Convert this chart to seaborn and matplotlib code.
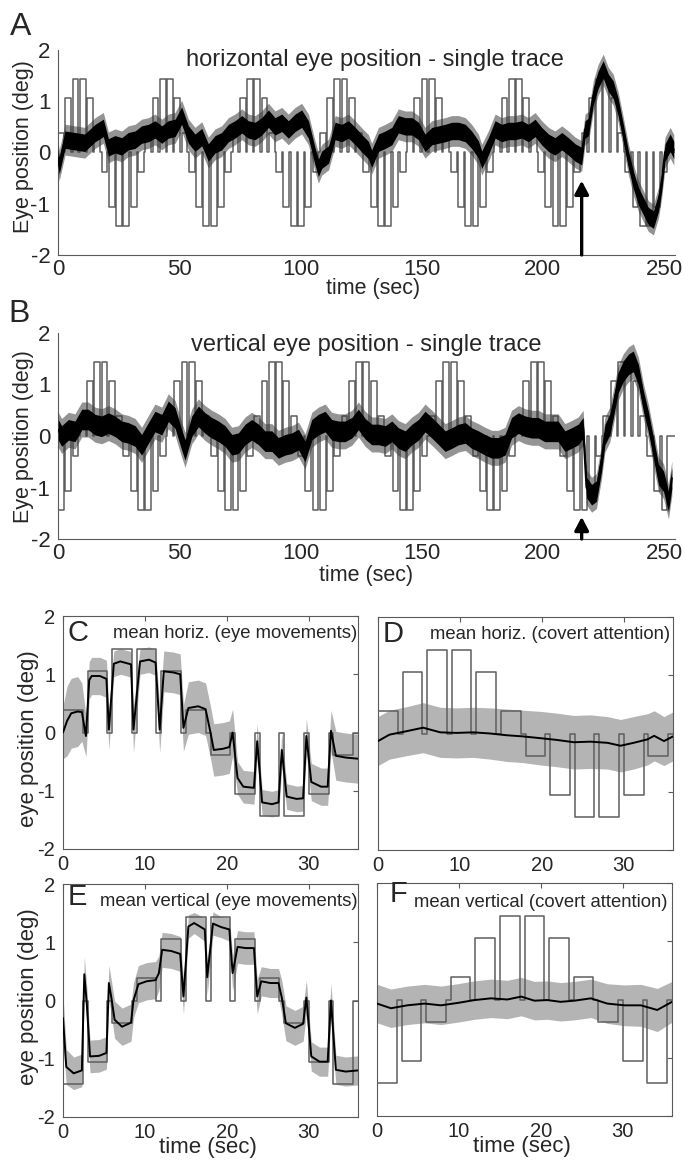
import numpy as np
import matplotlib
matplotlib.use("Agg")
import matplotlib.pyplot as plt
import seaborn as sns

# --- target positions (deg) for one 36 s trial: 12 targets, 2.4 s on, 0.6 s at centre
target_h = [0.38, 1.06, 1.44, 1.44, 1.06, 0.38, -0.38, -1.06, -1.44, -1.44, -1.06, -0.38]
target_v = [-1.44, -1.06, -0.38, 0.38, 1.06, 1.44, 1.44, 1.06, 0.38, -0.38, -1.06, -1.44]
target_on = 2.4
target_period = 3.0
trial_len = 36.0

# --- A: horizontal single trace
a_t = [0, 0.5, 2.9, 7, 11, 15.3, 18.7, 20.8, 23.5, 26.3,
       29, 31.8, 34.5, 37.3, 40, 42.8, 45.5, 48.3, 51, 53.8,
       56.5, 59.3, 62, 64.8, 67.5, 70.3, 73, 75.8, 78.5, 81.3,
       84, 86.8, 89.5, 92.3, 95, 97.8, 100.5, 103.3, 106, 107.4,
       108.8, 111.6, 114.3, 117, 119.8, 122.6, 125.3, 128, 129.4, 132.2,
       135, 137.7, 140.4, 143.2, 146, 148.7, 151.4, 154.2, 157, 159.7,
       162.4, 165.2, 168, 170.6, 173.4, 174.8, 177.5, 180.3, 183, 185.8,
       188.5, 191.3, 194, 196.8, 199.5, 202.3, 205, 207.8, 210.5, 213.3,
       216, 217.4, 218.8, 220.8, 222.8, 224.9, 227, 229, 231, 233.2,
       235.3, 237.3, 239.4, 241.5, 243.5, 245.6, 247.7, 249, 250.4, 252.5,
       254]
a_v = [-0.1, -0.25, 0.25, 0.22, 0.19, 0.38, 0.48, 0.1, 0.16, 0.12,
       0.22, 0.25, 0.35, 0.38, 0.45, 0.35, 0.45, 0.48, 0.72, 0.35,
       0.19, 0.3, 0.0, 0.16, 0.22, 0.38, 0.45, 0.55, 0.45, 0.42,
       0.51, 0.66, 0.51, 0.58, 0.45, 0.58, 0.66, 0.45, -0.07, -0.3,
       -0.14, -0.04, 0.42, 0.38, 0.45, 0.32, 0.18, 0.05, -0.12, 0.19,
       0.25, 0.32, 0.55, 0.51, 0.51, 0.42, 0.19, 0.32, 0.35, 0.38,
       0.42, 0.42, 0.38, 0.25, 0.06, -0.14, 0.12, 0.45, 0.38, 0.42,
       0.42, 0.45, 0.38, 0.48, 0.32, 0.19, 0.12, 0.22, 0.12, 0.0,
       -0.07, 0.45, 0.5, 1.1, 1.42, 1.62, 1.36, 1.23, 0.9, 0.38,
       -0.14, -0.53, -0.85, -1.05, -1.24, -1.31, -0.98, -0.59, 0.0, 0.19,
       0.05]
a_core = 0.17     # half-width of the dense part of the trace
a_fringe = 0.3    # half-width of the sparse spikes

# --- B: vertical single trace
b_t = [0.1, 1.5, 4.3, 7, 9.8, 12.5, 15.3, 18, 20.8, 23.5,
       26.3, 29, 31.8, 34.5, 37.3, 40, 42.8, 45.5, 48.3, 51,
       52.4, 55.2, 57.9, 60.7, 63.4, 66.2, 68.9, 71.7, 74.4, 77.2,
       79.9, 82.7, 85.4, 88.2, 90.9, 93.7, 96.4, 99.2, 101.9, 104.7,
       107.4, 110.2, 112.9, 115.7, 118.4, 121.2, 123.9, 126.7, 129.4, 132.2,
       135, 137.7, 140.4, 143.2, 146, 148.7, 151.4, 154.2, 157, 159.7,
       162.4, 165.2, 168, 170.6, 173.4, 176.1, 178.9, 181.6, 184.4, 187.1,
       189.9, 192.6, 195.4, 198.1, 200.8, 203.6, 206.3, 209.1, 211.8, 214.6,
       216.6, 218, 220.1, 222.1, 224.2, 225.6, 227.6, 229, 231, 233.2,
       235.3, 237.3, 239.4, 241.5, 243.5, 245.6, 247.7, 249.8, 251.8, 253.2]
b_v = [0.12, 0.0, 0.12, 0.09, 0.32, 0.32, 0.22, 0.19, 0.25, 0.19,
       0.09, 0.06, 0.0, -0.17, 0.06, 0.28, 0.22, 0.48, 0.35, -0.07,
       -0.27, 0.19, 0.38, 0.25, 0.16, 0.09, 0.0, -0.17, -0.14, 0.03,
       0.12, 0.03, -0.1, -0.1, -0.23, -0.17, -0.14, -0.07, -0.3, 0.12,
       0.22, 0.28, 0.12, 0.09, 0.09, 0.16, 0.32, 0.14, 0.03, 0.03,
       0.0, 0.09, -0.04, -0.1, 0.03, 0.12, 0.28, 0.16, 0.03, -0.1,
       -0.04, 0.03, 0.06, -0.04, -0.1, -0.17, -0.23, -0.23, -0.17, 0.16,
       0.25, 0.19, 0.16, 0.16, 0.09, 0.09, 0.09, -0.1, -0.04, 0.03,
       0.16, -1.0, -1.14, -1.07, -0.49, 0.03, 0.22, 0.54, 1.03, 1.26,
       1.39, 1.45, 1.19, 0.67, 0.28, -0.23, -0.75, -0.88, -1.27, -0.82]
b_core = 0.2
b_fringe = 0.34

arrow_t = 216
a_arrow_tip = -0.55
b_arrow_tip = -1.57

# --- C: mean horizontal, eye movements (mean and spread)
c_t = [0.0, 0.5, 1.0, 1.8, 2.3, 2.8, 3.2, 3.5, 4.5, 5.3,
       5.6, 6.2, 7.0, 8.3, 8.6, 9.4, 10.5, 11.3, 11.8, 12.3,
       13.5, 14.3, 14.7, 15.3, 16.5, 17.4, 18.0, 18.4, 19.5, 20.3,
       20.7, 21.3, 22.0, 23.3, 23.7, 24.3, 25.5, 26.3, 26.7, 27.3,
       28.5, 29.3, 29.7, 30.3, 31.5, 32.3, 32.7, 33.3, 34.5, 36.0]
c_m = [0.0, 0.2, 0.33, 0.36, 0.35, -0.06, 0.9, 0.97, 0.97, 0.92,
       0.05, 1.18, 1.22, 1.17, 0.05, 1.22, 1.25, 1.2, 0.05, 1.05,
       1.03, 1.0, 0.08, 0.42, 0.45, 0.4, 0.0, -0.3, -0.28, -0.25,
       0.0, -0.78, -0.93, -0.95, -0.15, -1.2, -1.23, -1.2, -0.3, -1.1,
       -1.14, -1.13, -0.06, -0.85, -0.93, -0.93, 0.03, -0.4, -0.43, -0.45]
c_sd = [0.45, 0.6, 0.6, 0.6, 0.5, 0.35, 0.32, 0.32, 0.32, 0.32,
        0.35, 0.22, 0.22, 0.22, 0.4, 0.22, 0.22, 0.22, 0.4, 0.35,
        0.35, 0.35, 0.4, 0.45, 0.45, 0.45, 0.45, 0.45, 0.45, 0.45,
        0.4, 0.28, 0.28, 0.28, 0.3, 0.22, 0.22, 0.22, 0.3, 0.22,
        0.22, 0.22, 0.3, 0.32, 0.32, 0.32, 0.35, 0.42, 0.42, 0.42]

# --- D: mean horizontal, covert attention
d_t = [0, 1.4, 3.5, 5.5, 7.6, 9.6, 11.6, 13.7, 15.7, 17.7, 19.8,
       21.8, 23.9, 25.9, 28.0, 29.6, 31.2, 32.9, 33.7, 34.9, 36.0]
d_m = [-0.13, -0.02, 0.04, 0.1, 0.02, 0.01, 0.02, 0.0, -0.03, -0.05, -0.08,
       -0.11, -0.15, -0.14, -0.16, -0.21, -0.16, -0.1, -0.04, -0.13, -0.05]
d_sd = [0.42, 0.42, 0.42, 0.43, 0.43, 0.43, 0.43, 0.44, 0.45, 0.45, 0.46,
        0.46, 0.46, 0.46, 0.45, 0.45, 0.45, 0.44, 0.43, 0.42, 0.42]

# --- E: mean vertical, eye movements
e_t = [0.0, 0.4, 1.3, 2.3, 2.6, 2.9, 3.3, 4.4, 5.3, 5.6,
       5.9, 6.3, 7.2, 8.3, 8.6, 9.2, 10.2, 11.3, 11.7, 12.1,
       13.2, 14.3, 14.7, 15.3, 16.0, 17.3, 17.6, 18.3, 19.3, 20.3,
       20.7, 21.3, 22.3, 23.3, 23.7, 24.2, 25.3, 26.3, 26.7, 27.2,
       28.3, 29.3, 29.7, 30.3, 31.3, 32.3, 32.7, 33.3, 34.5, 36.0]
e_m = [-0.3, -1.14, -1.25, -1.2, 0.45, -0.05, -0.96, -0.95, -0.9, 0.3,
       0.05, -0.33, -0.45, -0.38, 0.0, 0.28, 0.33, 0.35, 0.47, 0.87,
       0.85, 0.8, 0.07, 1.27, 1.33, 1.22, 0.4, 1.32, 1.26, 1.22,
       0.47, 0.92, 0.9, 0.9, 0.07, 0.33, 0.3, 0.3, 0.05, -0.39,
       -0.47, -0.4, 0.05, -0.96, -1.05, -1.05, 0.0, -1.19, -1.22, -1.2]
e_sd = [0.4, 0.3, 0.28, 0.28, 0.3, 0.3, 0.28, 0.28, 0.28, 0.3,
        0.3, 0.32, 0.32, 0.32, 0.3, 0.32, 0.32, 0.32, 0.3, 0.3,
        0.3, 0.3, 0.3, 0.2, 0.18, 0.2, 0.3, 0.2, 0.18, 0.2,
        0.3, 0.28, 0.28, 0.28, 0.3, 0.25, 0.25, 0.25, 0.3, 0.3,
        0.3, 0.3, 0.3, 0.25, 0.25, 0.25, 0.3, 0.25, 0.25, 0.25]

# --- F: mean vertical, covert attention
f_t = [0, 1.7, 3.7, 5.8, 7.8, 9.8, 11.9, 13.9, 15.9, 17.6,
       19.2, 20.8, 22.4, 24.1, 26.1, 28.1, 30.2, 32.2, 34.2, 36.0]
f_m = [-0.07, -0.15, -0.1, -0.07, -0.1, -0.06, -0.01, 0.02, 0.0, 0.05,
       -0.02, -0.01, -0.04, -0.02, 0.02, -0.07, -0.1, -0.1, -0.18, -0.04]
f_sd = [0.33, 0.33, 0.33, 0.33, 0.33, 0.33, 0.33, 0.33, 0.33, 0.33,
        0.33, 0.33, 0.33, 0.33, 0.33, 0.34, 0.35, 0.36, 0.37, 0.35]

STIM = "#5e5e5e"
BAND = "#b4b4b4"
SPINE = "#5a5a5a"

sns.set_style("white")
plt.rcParams["font.family"] = ["Liberation Sans", "DejaVu Sans"]
plt.rcParams["axes.unicode_minus"] = False

W, H = 684, 1162


def box(l, t, r, b):
    return [l / W, 1 - b / H, (r - l) / W, (b - t) / H]


def stim_steps(levels, n_cycles, t_end):
    ts, ys = [], []
    for k in range(n_cycles):
        for i, lev in enumerate(levels):
            t0 = k * trial_len + i * target_period
            ts += [t0, t0 + target_on]
            ys += [lev, 0.0]
    ts.append(t_end)
    ys.append(0.0)
    return ts, ys


def style_axis(ax, size, tick_len, full_box):
    for s in ax.spines.values():
        s.set_color(SPINE)
        s.set_linewidth(0.8)
    if not full_box:
        sns.despine(ax=ax)
    ax.tick_params(direction="in", length=tick_len, width=0.8, color=SPINE,
                   labelsize=size, top=full_box, right=full_box)
    ax.tick_params(axis="x", pad=3)
    ax.tick_params(axis="y", pad=5.5)


def single_trace(ax, t, v, core, fringe, targets, title, title_xy, tip, xlab_xy, ylab_y):
    xmax = 254.5
    st, sy = stim_steps(targets, 7, xmax)
    sns.lineplot(x=st, y=sy, ax=ax, color=STIM, lw=1.1, drawstyle="steps-post",
                 estimator=None, sort=False)
    t = np.array(t)
    v = np.array(v)
    # soft fringe of the noisy trace, then its dense core
    ax.fill_between(t, v - fringe, v + fringe, color="#3c3c3c", alpha=0.55, lw=0, zorder=3)
    ax.fill_between(t, v - core, v + core, color="black", lw=0, zorder=3)
    sns.lineplot(x=t, y=v, ax=ax, color="black", lw=1.5, estimator=None, sort=False, zorder=4)
    ax.annotate("", xy=(arrow_t, tip), xytext=(arrow_t, -2),
                arrowprops=dict(arrowstyle="-|>,head_length=0.8,head_width=0.42",
                                color="black", lw=2.4, shrinkA=0, shrinkB=0), zorder=5)
    ax.set_xlim(0, xmax)
    ax.set_ylim(-2, 2)
    ax.set_xticks([0, 50, 100, 150, 200, 250])
    ax.set_yticks([-2, -1, 0, 1, 2])
    style_axis(ax, 16, 4.5, False)
    ax.text(title_xy[0], title_xy[1], title, transform=ax.transAxes,
            ha="center", va="center", fontsize=17)
    ax.set_xlabel("time (sec)", fontsize=15.5)
    ax.xaxis.set_label_coords(*xlab_xy)
    ax.xaxis.label.set_va("center")
    ax.set_ylabel("Eye position (deg)", fontsize=15.5)
    ax.yaxis.set_label_coords(-0.056, ylab_y)
    ax.yaxis.label.set_va("center")


def mean_panel(ax, t, m, sd, targets, letter, letter_xy, title, title_xy, ylab_y=None, xlab=False):
    t = np.array(t)
    m = np.array(m)
    sd = np.array(sd)
    ax.fill_between(t, m - sd, m + sd, color=BAND, lw=0, zorder=1)
    st, sy = stim_steps(targets, 1, trial_len)
    sns.lineplot(x=st, y=sy, ax=ax, color=STIM, lw=1.1, drawstyle="steps-post",
                 estimator=None, sort=False, zorder=2)
    sns.lineplot(x=t, y=m, ax=ax, color="black", lw=1.4, estimator=None, sort=False, zorder=3)
    ax.set_xlim(0, trial_len)
    ax.set_ylim(-2, 2)
    ax.set_xticks([0, 10, 20, 30])
    ax.set_yticks([-2, -1, 0, 1, 2])
    style_axis(ax, 14.5, 3.5, True)
    ax.tick_params(axis="x", pad=4)
    ax.text(letter_xy[0], letter_xy[1], letter, transform=ax.transAxes,
            ha="left", va="center", fontsize=21)
    ax.text(title_xy[0], title_xy[1], title, transform=ax.transAxes,
            ha="left", va="center", fontsize=13.3, zorder=6)
    if ylab_y is None:
        ax.tick_params(axis="y", labelleft=False)
    else:
        ax.set_ylabel("eye position (deg)", fontsize=16)
        ax.yaxis.set_label_coords(-0.118, ylab_y)
        ax.yaxis.label.set_va("center")
    if xlab:
        ax.set_xlabel("time (sec)", fontsize=16)
        ax.xaxis.set_label_coords(0.49, -0.13)
        ax.xaxis.label.set_va("center")


fig = plt.figure(figsize=(W / 100, H / 100), dpi=100)
ax_a = fig.add_axes(box(58, 50, 675, 255))
ax_b = fig.add_axes(box(58, 333, 675, 539))
ax_c = fig.add_axes(box(63, 616, 358, 849))
ax_d = fig.add_axes(box(378, 617, 673, 850))
ax_e = fig.add_axes(box(63, 884, 358, 1117))
ax_f = fig.add_axes(box(377, 883, 672, 1116))

single_trace(ax_a, a_t, a_v, a_core, a_fringe, target_h,
             "horizontal eye position - single trace", (0.514, 0.951),
             a_arrow_tip, (0.51, -0.161), 0.527)
single_trace(ax_b, b_t, b_v, b_core, b_fringe, target_v,
             "vertical eye position - single trace", (0.50, 0.942),
             b_arrow_tip, (0.50, -0.175), 0.495)

mean_panel(ax_c, c_t, c_m, c_sd, target_h, "C", (0.014, 0.927),
           "mean horiz. (eye movements)", (0.169, 0.927), ylab_y=0.472)
mean_panel(ax_d, d_t, d_m, d_sd, target_h, "D", (0.017, 0.927),
           "mean horiz. (covert attention)", (0.176, 0.927))
mean_panel(ax_e, e_t, e_m, e_sd, target_v, "E", (0.014, 0.944),
           "mean vertical (eye movements)", (0.125, 0.923), ylab_y=0.515, xlab=True)
mean_panel(ax_f, f_t, f_m, f_sd, target_v, "F", (0.044, 0.953),
           "mean vertical (covert attention)", (0.125, 0.918), xlab=True)

fig.text(21 / W, 1 - 27 / H, "A", fontsize=23, ha="center", va="center")
fig.text(19 / W, 1 - 314 / H, "B", fontsize=23, ha="center", va="center")

fig.savefig("out.png", dpi=100)
